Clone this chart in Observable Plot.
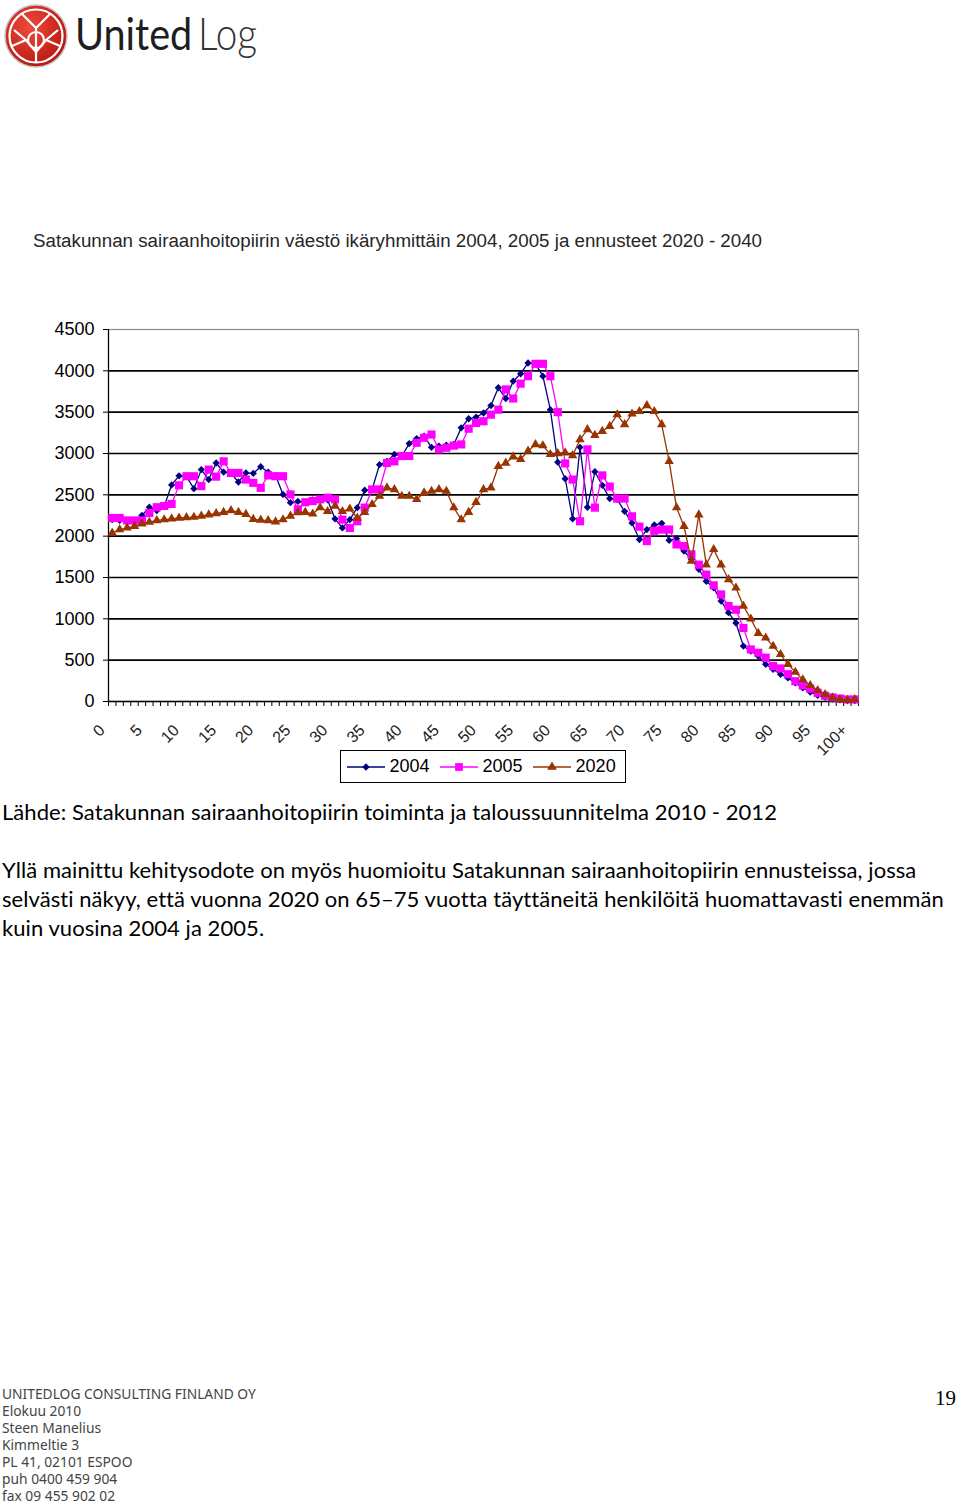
<!DOCTYPE html>
<html><head><meta charset="utf-8">
<script src="https://cdn.jsdelivr.net/npm/d3@7"></script>
<script src="https://cdn.jsdelivr.net/npm/@observablehq/plot@0.6"></script>
<style>
html,body{margin:0;padding:0;background:#fff;}
body{width:960px;height:1505px;position:relative;overflow:hidden;font-family:"Liberation Sans",Arial,sans-serif;color:#000;}
.abs{position:absolute;}
#body1,#body2{font-family:Lato,"Open Sans",sans-serif;font-size:22px;letter-spacing:0.06px;line-height:29px;color:#000;white-space:nowrap;}
#footer{font-family:"Noto Sans",sans-serif;font-size:13.8px;line-height:17px;color:#444;white-space:nowrap;}
#legend{border:1.5px solid #000;box-sizing:border-box;display:flex;align-items:center;font-size:18px;padding-left:5.5px;}
</style></head><body>

<svg class="abs" style="left:0;top:0" width="270" height="75">
  <defs><radialGradient id="rg" cx="40%" cy="35%" r="70%"><stop offset="0" stop-color="#f04a3a"/><stop offset="1" stop-color="#b5150f"/></radialGradient></defs>
  <circle cx="36" cy="36" r="31" fill="url(#rg)" stroke="#c9c9c9" stroke-width="1.5"/>
  <circle cx="36" cy="36" r="26.5" fill="none" stroke="#fff" stroke-width="2.2"/>
  <g fill="none" stroke="#fff" stroke-width="2.2" stroke-linejoin="round">
    <path d="M22 14 L36 28 L50 14"/>
    <path d="M36 28 L36 62"/>
    <path d="M12 46 L26 40 L36 52 L46 40 L60 46"/>
    <circle cx="36" cy="40" r="8"/>
    <path d="M14 30 L26 40 M58 30 L46 40"/>
  </g>
  <text id="logoA" transform="translate(75,50) scale(0.88,1)" font-family="Lato,'Open Sans',sans-serif" font-size="45" fill="#1e1e1e">United</text>
  <text id="logoB" transform="translate(198,50) scale(0.86,1)" font-family="Lato,'Open Sans',sans-serif" font-size="45" font-weight="300" fill="#333">Log</text>
</svg>

<svg class="abs" style="left:0;top:222px" width="800" height="32">
  <text id="title" x="33" y="25" font-family="'Liberation Sans',Arial,sans-serif" font-size="18" fill="#262626" textLength="729" lengthAdjust="spacingAndGlyphs"></text>
</svg>

<div id="chart" class="abs" style="left:0;top:300px"></div>
<div id="legend" class="abs" style="left:340px;top:750px;width:286px;height:33px;"></div>

<div id="body1" class="abs" style="left:2px;top:797px"></div>
<div id="body2" class="abs" style="left:2px;top:855px"></div>
<div id="footer" class="abs" style="left:2px;top:1385px"></div>
<div class="abs" style="left:935px;top:1386px;font-family:'Liberation Serif',serif;font-size:21px;">19</div>

<script>
// ---- data ----
const titleText = "Satakunnan sairaanhoitopiirin väestö ikäryhmittäin 2004, 2005 ja ennusteet 2020 - 2040";
const ages = d3.range(0, 101); // category index 0..100 (100 = "100+")
const ageLabels = ages.map(a => a === 100 ? "100+" : String(a));
const labelAges = [0,5,10,15,20,25,30,35,40,45,50,55,60,65,70,75,80,85,90,95,100];
const yTicks = [0,500,1000,1500,2000,2500,3000,3500,4000,4500];
const seriesNames = ["2004","2005","2020"];
const seriesColors = ["#000080","#ff00ff","#993300"];
const seriesSymbols = ["diamond2","square","triangle"];

const v2004 = [2200,2190,2170,2170,2250,2350,2310,2360,2620,2730,
  2720,2575,2805,2685,2885,2775,2760,2655,2765,2760,
  2840,2775,2735,2505,2405,2420,2410,2440,2460,2440,
  2210,2100,2200,2345,2555,2565,2865,2905,2990,2970,
  3120,3180,3210,3075,3090,3100,3110,3310,3420,3440,
  3490,3580,3795,3665,3875,3965,4095,4085,3935,3530,
  2895,2695,2210,3075,2350,2780,2615,2455,2445,2300,
  2160,1960,2080,2135,2155,1950,1970,1820,1720,1600,
  1455,1375,1215,1075,950,670,610,550,450,390,
  330,285,225,165,115,75,50,30,20,12,10];
const v2005 = [2220,2220,2190,2190,2190,2280,2350,2365,2390,2615,
  2725,2725,2605,2805,2720,2905,2765,2765,2685,2645,
  2585,2735,2725,2725,2505,2325,2410,2425,2445,2465,
  2445,2200,2100,2180,2345,2565,2565,2885,2905,2970,
  2970,3130,3190,3230,3050,3070,3095,3110,3300,3370,
  3390,3470,3530,3775,3665,3845,3935,4085,4085,3935,
  3500,2880,2685,2180,3050,2345,2735,2600,2455,2455,
  2240,2115,1940,2065,2080,2080,1900,1880,1780,1655,
  1535,1405,1295,1155,1110,890,630,590,530,430,
  400,330,245,195,155,105,70,50,35,25,25];
const v2020 = [2040,2080,2100,2120,2150,2170,2190,2200,2210,2220,
  2225,2230,2245,2260,2275,2290,2310,2290,2265,2205,
  2195,2190,2175,2200,2245,2285,2290,2270,2345,2300,
  2365,2300,2330,2220,2290,2385,2485,2585,2565,2485,
  2485,2445,2525,2545,2565,2545,2345,2200,2290,2410,
  2565,2585,2845,2885,2960,2930,3030,3110,3095,2990,
  3000,3010,2975,3170,3290,3220,3270,3330,3470,3350,
  3480,3510,3580,3510,3350,2905,2345,2120,1700,2260,
  1655,1840,1655,1475,1375,1155,1000,825,770,670,
  570,450,355,265,195,135,85,45,25,15,25];
const seriesValues = [v2004, v2005, v2020];

const sourceText = "Lähde: Satakunnan sairaanhoitopiirin toiminta ja taloussuunnitelma 2010 - 2012";
const paragraphLines = [
  "Yllä mainittu kehitysodote on myös huomioitu Satakunnan sairaanhoitopiirin ennusteissa, jossa",
  "selvästi näkyy, että vuonna 2020 on 65–75 vuotta täyttäneitä henkilöitä huomattavasti enemmän",
  "kuin vuosina 2004 ja 2005."
];
const footerLines = ["UNITEDLOG CONSULTING FINLAND OY","Elokuu 2010","Steen Manelius","Kimmeltie 3","PL 41, 02101 ESPOO","puh 0400 459 904","fax 09 455 902 02"];

// ---- build ----
document.getElementById("title").textContent = titleText;
document.getElementById("body1").textContent = sourceText;
document.getElementById("body2").innerHTML = paragraphLines.join("<br>");
document.getElementById("footer").innerHTML = footerLines.join("<br>");

const rows = seriesNames.map((name, i) => ages.map(a => ({age: a, value: seriesValues[i][a], name})));
const boundaries = ages.map(a => a - 0.5).concat([100.5]);

const marks = [
  Plot.ruleY(yTicks.filter(d => d > 0 && d < 4500), {stroke: "#000", strokeWidth: 1.7}),
  Plot.frame({stroke: "#8c8c8c", strokeWidth: 1.2}),
  Plot.ruleX([-0.5], {stroke: "#000", strokeWidth: 1.2}),
  Plot.ruleY([0], {stroke: "#000", strokeWidth: 1.4}),
  Plot.axisY({ticks: yTicks, tickSize: 5, tickPadding: 9, fontSize: 18, label: null, stroke: "#000", tickFormat: d => String(d)}),
  Plot.axisX({ticks: boundaries, tickSize: 5, tickFormat: () => "", label: null, stroke: "#000"}),
  Plot.text(labelAges, {x: d => d, y: 0, text: d => ageLabels[d], rotate: -45, textAnchor: "end", lineAnchor: "middle", dx: -10, dy: 26, fontSize: 16, fill: "#222"})
];
rows.forEach((data, i) => {
  marks.push(Plot.line(data, {x: "age", y: "value", stroke: seriesColors[i], strokeWidth: 1.3}));
  marks.push(Plot.dot(data, {x: "age", y: "value", symbol: seriesSymbols[i], fill: seriesColors[i], stroke: "none",
    r: i === 0 ? 3.3 : (i === 1 ? 4.6 : 3.5)}));
});

const chart = Plot.plot({
  width: 960, height: 470,
  marginLeft: 108, marginRight: 102, marginTop: 29, marginBottom: 69,
  x: {domain: [-0.5, 100.5], axis: null},
  y: {domain: [0, 4500], axis: null},
  style: {fontFamily: "'Liberation Sans', Arial, sans-serif", fontSize: "17px", color: "#000", background: "transparent", overflow: "visible"},
  marks
});
document.getElementById("chart").appendChild(chart);

// legend
const legend = d3.select("#legend");
seriesNames.forEach((name, i) => {
  const s = legend.append("svg").attr("width", 38).attr("height", 14).style("margin-right", "5px").style("flex", "none");
  s.append("line").attr("x1", 0).attr("x2", 38).attr("y1", 7).attr("y2", 7).attr("stroke", seriesColors[i]).attr("stroke-width", 1.5);
  const sym = {diamond2: d3.symbolDiamond2, square: d3.symbolSquare, triangle: d3.symbolTriangle}[seriesSymbols[i]];
  const size = i === 0 ? 34 : (i === 1 ? 60 : 40);
  s.append("path").attr("d", d3.symbol(sym, size)()).attr("transform", "translate(19,7)").attr("fill", seriesColors[i]);
  legend.append("span").text(name).style("margin-right", i < 2 ? "10px" : "0");
});
</script>
</body></html>
